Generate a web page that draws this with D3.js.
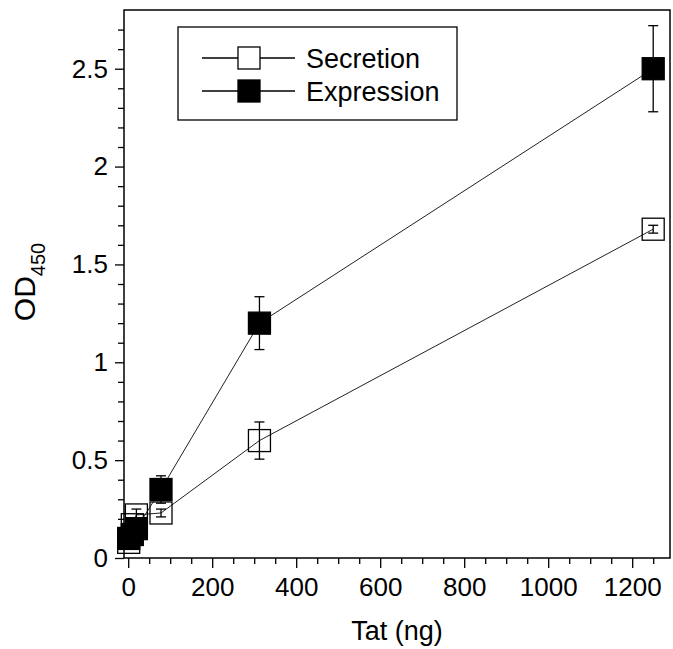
<!DOCTYPE html>
<html lang="en">
<head>
<meta charset="UTF-8">
<title>OD450 vs Tat</title>
<style>
  body { margin: 0; background: #fff; }
  svg { display: block; font-family: Arial, "Liberation Sans", sans-serif; }
  .tick text { font-size: 26px; fill: #000; }
  .tick line { stroke: #000; stroke-width: 1.3; }
</style>
</head>
<body>
<svg width="673" height="649"></svg>
<script src="https://d3js.org/d3.v7.min.js"></script>
<script>
// Tat amount (ng)
var tatNg = [1.2, 9.8, 19.5, 78.1, 312.5, 1250];
var secretion = [0.08, 0.17, 0.22, 0.23, 0.60, 1.68];
var secretionErr = [0.01, 0.02, 0.03, 0.02, 0.095, 0.02];
var expression = [0.10, 0.12, 0.15, 0.35, 1.20, 2.50];
var expressionErr = [0.01, 0.02, 0.02, 0.07, 0.135, 0.22];
var xMajorTicks = [0, 200, 400, 600, 800, 1000, 1200];
var yMajorTicks = [0, 0.5, 1, 1.5, 2, 2.5];
var seriesNames = ["Secretion", "Expression"];

var svg = d3.select("svg");
var plot = {left: 124, right: 670, top: 10, bottom: 558};

var x = d3.scaleLinear().domain([-10, 1290]).range([plot.left, plot.right]);
var y = d3.scaleLinear().domain([0, 2.8]).range([plot.bottom, plot.top]);

var xMinor = d3.range(50, 1300, 50).filter(function(d) { return d % 200 !== 0; });
var yMinor = d3.range(1, 28).map(function(d) { return d / 10; })
    .filter(function(d) { return Math.round(d * 10) % 5 !== 0; });

// minor ticks
svg.append("g")
    .attr("transform", "translate(0," + plot.bottom + ")")
    .call(d3.axisBottom(x).tickValues(xMinor).tickSize(6).tickFormat(""))
    .select(".domain").remove();
svg.append("g")
    .attr("transform", "translate(" + plot.left + ",0)")
    .call(d3.axisLeft(y).tickValues(yMinor).tickSize(6).tickFormat(""))
    .select(".domain").remove();

// major ticks
var xAxis = svg.append("g")
    .attr("transform", "translate(0," + plot.bottom + ")")
    .call(d3.axisBottom(x).tickValues(xMajorTicks).tickSize(10).tickPadding(10).tickFormat(d3.format("d")));
xAxis.select(".domain").remove();

var yAxis = svg.append("g")
    .attr("transform", "translate(" + plot.left + ",0)")
    .call(d3.axisLeft(y).tickValues(yMajorTicks).tickSize(9).tickPadding(7).tickFormat(function(d) { return String(d); }));
yAxis.select(".domain").remove();

// frame
svg.append("rect")
    .attr("x", plot.left).attr("y", plot.top)
    .attr("width", plot.right - plot.left).attr("height", plot.bottom - plot.top)
    .attr("fill", "none").attr("stroke", "#000").attr("stroke-width", 1.5);

// axis titles
svg.append("text")
    .attr("x", (plot.left + plot.right) / 2).attr("y", 640)
    .attr("text-anchor", "middle").attr("font-size", 27)
    .text("Tat (ng)");

var yTitle = svg.append("text")
    .attr("transform", "translate(35," + 282 + ") rotate(-90)")
    .attr("text-anchor", "middle").attr("font-size", 30);
yTitle.append("tspan").text("OD");
yTitle.append("tspan").attr("font-size", 20).attr("dy", 10).text("450");

var line = d3.line()
    .x(function(d) { return x(d[0]); })
    .y(function(d) { return y(d[1]); });

var sq = 22, cap = 5;

function drawSeries(values, errs, filled) {
    var pts = tatNg.map(function(t, i) { return [t, values[i], errs[i]]; });
    var g = svg.append("g");
    g.append("path")
        .datum(pts)
        .attr("d", line)
        .attr("fill", "none").attr("stroke", "#222").attr("stroke-width", 1);
    var errG = g.append("g").attr("stroke", "#000").attr("stroke-width", 1.3);
    var symG = g.append("g");
    symG.selectAll("rect")
        .data(pts)
        .enter().append("rect")
        .attr("x", function(d) { return x(d[0]) - sq / 2; })
        .attr("y", function(d) { return y(d[1]) - sq / 2; })
        .attr("width", sq).attr("height", sq)
        .attr("fill", filled ? "#000" : "none")
        .attr("stroke", "#000").attr("stroke-width", 1.3);
    var e = errG.selectAll("g").data(pts).enter().append("g");
    e.append("line")
        .attr("x1", function(d) { return x(d[0]); })
        .attr("x2", function(d) { return x(d[0]); })
        .attr("y1", function(d) { return y(d[1] - d[2]); })
        .attr("y2", function(d) { return y(d[1] + d[2]); });
    [-1, 1].forEach(function(s) {
        e.append("line")
            .attr("x1", function(d) { return x(d[0]) - cap; })
            .attr("x2", function(d) { return x(d[0]) + cap; })
            .attr("y1", function(d) { return y(d[1] + s * d[2]); })
            .attr("y2", function(d) { return y(d[1] + s * d[2]); });
    });
    g.node().appendChild(errG.node());
}

drawSeries(secretion, secretionErr, false);
drawSeries(expression, expressionErr, true);

// legend
var legend = svg.append("g");
legend.append("rect")
    .attr("x", 178).attr("y", 27).attr("width", 279).attr("height", 93)
    .attr("fill", "#fff").attr("stroke", "#000").attr("stroke-width", 1.3);
var rows = legend.selectAll("g.row")
    .data(seriesNames)
    .enter().append("g")
    .attr("class", "row")
    .attr("transform", function(d, i) { return "translate(0," + (58 + i * 33) + ")"; });
rows.append("line")
    .attr("x1", 202).attr("x2", 295).attr("y1", 0).attr("y2", 0)
    .attr("stroke", "#000").attr("stroke-width", 1.3);
rows.append("rect")
    .attr("x", 249 - 11).attr("y", -11).attr("width", 22).attr("height", 22)
    .attr("fill", function(d, i) { return i === 0 ? "#fff" : "#000"; })
    .attr("stroke", "#000").attr("stroke-width", 1.3);
rows.append("text")
    .attr("x", 306).attr("y", 0).attr("dy", "0.36em")
    .attr("font-size", 27)
    .text(function(d) { return d; });
</script>
</body>
</html>
